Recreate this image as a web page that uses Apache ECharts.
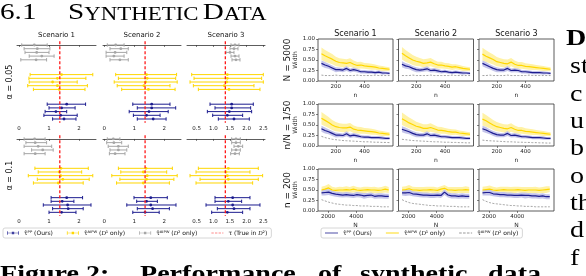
<!DOCTYPE html>
<html><head><meta charset="utf-8">
<script src="https://cdn.jsdelivr.net/npm/echarts@6/dist/echarts.min.js"></script>
<style>html,body{margin:0;padding:0;background:#fff}#c{width:586px;height:276px}</style>
</head><body><div id="c"></div>
<script>
// ---------------- DATA ----------------
const scenarios = ['Scenario 1', 'Scenario 2', 'Scenario 3'];
const alphaLabels = ['α = 0.05', 'α = 0.1'];
const trueTau = 1.36;
const forestTicksAB = [0, 1, 2];
const forestTicksC = [0.5, 1.0, 1.5, 2.0, 2.5];
// [lower, estimate, upper] for 5 repetitions
// alpha = 0.05
const a05_s1_gray = [[0.09,0.51,0.94],[0.17,0.61,1.03],[0.2,0.59,1.0],[0.34,0.76,1.17],[0.06,0.57,0.92]];
const a05_s1_yel  = [[0.37,1.42,2.46],[0.33,1.28,2.23],[0.34,1.12,1.94],[0.29,1.28,2.28],[0.48,1.34,2.2]];
const a05_s1_pp   = [[0.94,1.59,2.22],[1.0,1.42,1.87],[0.87,1.23,1.59],[0.83,1.39,1.94],[1.12,1.5,1.9]];
const a05_s2_gray = [[0.1,0.38,0.66],[0.19,0.55,0.8],[0.06,0.36,0.75],[0.06,0.32,0.66],[0.19,0.52,0.8]];
const a05_s2_yel  = [[0.38,1.41,2.41],[0.47,1.43,2.38],[0.33,1.38,2.43],[0.43,1.32,2.19],[0.58,1.47,2.36]];
const a05_s2_pp   = [[0.95,1.58,2.19],[1.1,1.58,2.38],[0.83,1.49,2.13],[0.97,1.41,1.86],[1.1,1.63,2.06]];
const a05_s3_gray = [[1.53,1.65,1.77],[1.5,1.62,1.74],[1.38,1.5,1.62],[1.53,1.65,1.77],[1.56,1.68,1.8]];
const a05_s3_yel  = [[0.35,1.42,2.5],[0.42,1.42,2.45],[0.3,1.4,2.5],[0.4,1.33,2.22],[0.55,1.47,2.4]];
const a05_s3_pp   = [[0.9,1.55,2.2],[1.05,1.55,2.12],[0.82,1.48,2.15],[0.98,1.42,1.88],[1.15,1.62,2.08]];
// alpha = 0.1
const a10_s1_gray = [[0.17,0.52,0.87],[0.23,0.54,0.92],[0.17,0.64,1.09],[0.42,0.79,1.14],[0.17,0.54,0.87]];
const a10_s1_yel  = [[0.53,1.4,2.31],[0.64,1.34,2.09],[0.31,1.39,2.46],[0.61,1.46,2.34],[0.48,1.31,2.14]];
const a10_s1_pp   = [[1.07,1.59,2.12],[1.07,1.44,1.83],[0.81,1.62,2.4],[1.12,1.64,2.14],[1.0,1.42,1.9]];
const a10_s2_gray = [[0.1,0.3,0.52],[0.08,0.32,0.58],[0.13,0.47,0.8],[0.19,0.47,0.75],[0.17,0.36,0.69]];
const a10_s2_yel  = [[0.47,1.39,2.27],[0.55,1.3,2.08],[0.25,1.43,2.43],[0.52,1.41,2.32],[0.41,1.3,2.17]];
const a10_s2_pp   = [[0.99,1.55,2.1],[1.08,1.41,1.77],[0.75,1.55,2.39],[1.1,1.61,2.17],[0.95,1.36,1.83]];
const a10_s3_gray = [[1.55,1.68,1.81],[1.55,1.68,1.81],[1.62,1.75,1.88],[1.55,1.68,1.81],[1.52,1.65,1.78]];
const a10_s3_yel  = [[0.55,1.45,2.35],[0.48,1.38,2.1],[0.3,1.42,2.48],[0.6,1.45,2.35],[0.48,1.35,2.18]];
const a10_s3_pp   = [[1.05,1.58,2.1],[1.05,1.45,1.85],[0.78,1.58,2.4],[1.12,1.62,2.1],[0.95,1.42,1.88]];

// Width curves
const nValues = [100,125,150,175,200,225,250,275,300,325,350,375,400,425,450,475,500,525,550,575];
const NValues = [1550,1800,2050,2300,2550,2800,3050,3300,3550,3800,4050,4300,4550,4800,5050,5300,5550,5800,6050,6300];
const rowLabels = ['N = 5000', 'n/N = 1/50', 'n = 200'];
const widthTicks = [0, 0.25, 0.5, 0.75, 1.0];
const nTicks = [200, 400];
const NTicks = [2000, 4000];
// row 1: N = 5000
const r1_s1_yel  = [0.65,0.6,0.56,0.52,0.47,0.44,0.43,0.42,0.44,0.4,0.37,0.38,0.36,0.35,0.34,0.33,0.31,0.3,0.29,0.28];
const r1_s1_pp   = [0.42,0.38,0.35,0.31,0.27,0.27,0.26,0.3,0.25,0.27,0.25,0.22,0.22,0.21,0.21,0.2,0.21,0.19,0.19,0.18];
const r1_s1_gray = [0.14,0.13,0.13,0.13,0.14,0.13,0.13,0.13,0.13,0.13,0.14,0.13,0.13,0.13,0.13,0.14,0.13,0.13,0.13,0.13];
const r1_s2_yel  = [0.66,0.6,0.55,0.5,0.47,0.45,0.42,0.43,0.45,0.41,0.38,0.38,0.36,0.35,0.33,0.34,0.32,0.3,0.29,0.28];
const r1_s2_pp   = [0.4,0.36,0.34,0.3,0.27,0.26,0.27,0.29,0.25,0.26,0.24,0.22,0.23,0.21,0.2,0.21,0.2,0.19,0.19,0.18];
const r1_s2_gray = [0.13,0.13,0.13,0.14,0.13,0.13,0.13,0.13,0.14,0.13,0.13,0.13,0.13,0.13,0.14,0.13,0.13,0.13,0.13,0.13];
const r1_s3_yel  = [0.64,0.59,0.55,0.51,0.46,0.44,0.42,0.41,0.45,0.4,0.37,0.37,0.35,0.34,0.33,0.32,0.31,0.3,0.29,0.28];
const r1_s3_pp   = [0.42,0.38,0.34,0.3,0.27,0.26,0.26,0.3,0.25,0.26,0.25,0.22,0.22,0.21,0.2,0.2,0.2,0.19,0.19,0.18];
const r1_s3_gray = [0.13,0.13,0.14,0.13,0.13,0.13,0.13,0.14,0.13,0.13,0.13,0.13,0.13,0.14,0.13,0.13,0.13,0.13,0.13,0.13];
// row 2: n/N = 1/50
const r2_s1_yel  = [0.66,0.61,0.56,0.5,0.46,0.44,0.43,0.43,0.45,0.4,0.38,0.37,0.36,0.35,0.34,0.33,0.31,0.3,0.29,0.28];
const r2_s1_pp   = [0.41,0.37,0.34,0.3,0.26,0.26,0.25,0.29,0.24,0.26,0.24,0.22,0.21,0.21,0.2,0.2,0.2,0.19,0.18,0.18];
const r2_s1_gray = [0.23,0.2,0.18,0.16,0.15,0.14,0.13,0.125,0.12,0.115,0.11,0.105,0.1,0.1,0.095,0.09,0.09,0.085,0.085,0.08];
const r2_s2_yel  = [0.65,0.6,0.55,0.51,0.47,0.45,0.42,0.42,0.44,0.41,0.38,0.37,0.36,0.34,0.33,0.33,0.31,0.3,0.29,0.28];
const r2_s2_pp   = [0.4,0.37,0.34,0.3,0.27,0.26,0.26,0.29,0.25,0.26,0.24,0.22,0.22,0.21,0.2,0.2,0.2,0.19,0.18,0.18];
const r2_s2_gray = [0.16,0.15,0.14,0.13,0.125,0.12,0.115,0.11,0.105,0.1,0.1,0.095,0.09,0.09,0.085,0.085,0.08,0.08,0.075,0.075];
const r2_s3_yel  = [0.64,0.6,0.55,0.5,0.46,0.44,0.42,0.41,0.44,0.4,0.37,0.37,0.35,0.34,0.33,0.32,0.31,0.3,0.29,0.28];
const r2_s3_pp   = [0.41,0.38,0.34,0.3,0.27,0.26,0.26,0.3,0.25,0.26,0.24,0.22,0.22,0.21,0.2,0.2,0.2,0.19,0.18,0.18];
const r2_s3_gray = [0.14,0.13,0.125,0.12,0.115,0.11,0.105,0.1,0.1,0.095,0.09,0.09,0.085,0.085,0.08,0.08,0.075,0.075,0.07,0.07];
// row 3: n = 200
const r3_s1_yel  = [0.5,0.52,0.55,0.5,0.49,0.5,0.5,0.51,0.5,0.52,0.5,0.49,0.5,0.51,0.5,0.5,0.49,0.5,0.52,0.5];
const r3_s1_pp   = [0.43,0.44,0.45,0.42,0.4,0.39,0.38,0.39,0.38,0.37,0.39,0.38,0.36,0.37,0.38,0.35,0.36,0.36,0.35,0.35];
const r3_s1_gray = [0.27,0.24,0.21,0.19,0.17,0.16,0.15,0.14,0.14,0.13,0.13,0.12,0.12,0.12,0.11,0.11,0.11,0.1,0.1,0.1];
const r3_s2_yel  = [0.5,0.51,0.53,0.5,0.5,0.49,0.5,0.5,0.51,0.5,0.49,0.52,0.54,0.5,0.5,0.49,0.5,0.5,0.51,0.5];
const r3_s2_pp   = [0.43,0.43,0.44,0.41,0.4,0.39,0.38,0.38,0.37,0.37,0.38,0.37,0.45,0.38,0.36,0.36,0.35,0.36,0.35,0.35];
const r3_s2_gray = [0.27,0.23,0.2,0.18,0.17,0.16,0.15,0.14,0.13,0.13,0.12,0.12,0.12,0.11,0.11,0.11,0.1,0.1,0.1,0.1];
const r3_s3_yel  = [0.5,0.51,0.52,0.5,0.49,0.5,0.51,0.5,0.5,0.5,0.51,0.5,0.49,0.5,0.5,0.5,0.49,0.5,0.51,0.52];
const r3_s3_pp   = [0.43,0.44,0.44,0.41,0.4,0.39,0.39,0.38,0.38,0.37,0.37,0.38,0.37,0.37,0.36,0.36,0.35,0.36,0.34,0.34];
const r3_s3_gray = [0.27,0.23,0.2,0.18,0.17,0.16,0.15,0.14,0.13,0.13,0.12,0.12,0.11,0.11,0.11,0.1,0.1,0.1,0.1,0.1];
// band half-widths (spread across repetitions)
const r1_band_yel = [0.15,0.14,0.13,0.12,0.11,0.1,0.1,0.1,0.1,0.09,0.08,0.08,0.07,0.07,0.07,0.06,0.06,0.06,0.05,0.05];
const r1_band_pp  = [0.07,0.07,0.06,0.06,0.06,0.05,0.05,0.06,0.05,0.05,0.05,0.04,0.04,0.04,0.04,0.04,0.04,0.04,0.03,0.03];
const r2_band_yel = [0.15,0.14,0.13,0.12,0.11,0.1,0.1,0.1,0.1,0.09,0.08,0.08,0.07,0.07,0.07,0.06,0.06,0.06,0.05,0.05];
const r2_band_pp  = [0.07,0.07,0.06,0.06,0.06,0.05,0.05,0.06,0.05,0.05,0.05,0.04,0.04,0.04,0.04,0.04,0.04,0.04,0.03,0.03];
const r3_band_yel = [0.08,0.08,0.09,0.08,0.07,0.08,0.07,0.08,0.07,0.08,0.07,0.07,0.08,0.07,0.07,0.08,0.07,0.07,0.08,0.07];
const r3_band_pp  = [0.06,0.07,0.07,0.06,0.06,0.06,0.06,0.06,0.06,0.06,0.06,0.06,0.07,0.06,0.06,0.06,0.06,0.06,0.06,0.06];

// ---------------- STYLE / LAYOUT ----------------
const C_PP = '#1c1c8f', C_YEL = '#ffd700', C_GRAY = '#a6a6a6', C_RED = '#ff1a1a';
const C_BAND_PP = '#c4c4ea', C_BAND_YEL = '#fff2a6';
const SANS = 'DejaVu Sans', SERIF = 'Liberation Serif';

const forestData = [
  [[a05_s1_gray,a05_s1_yel,a05_s1_pp],[a05_s2_gray,a05_s2_yel,a05_s2_pp],[a05_s3_gray,a05_s3_yel,a05_s3_pp]],
  [[a10_s1_gray,a10_s1_yel,a10_s1_pp],[a10_s2_gray,a10_s2_yel,a10_s2_pp],[a10_s3_gray,a10_s3_yel,a10_s3_pp]]
];
const widthData = [
  [[r1_s1_gray,r1_s1_yel,r1_s1_pp],[r1_s2_gray,r1_s2_yel,r1_s2_pp],[r1_s3_gray,r1_s3_yel,r1_s3_pp]],
  [[r2_s1_gray,r2_s1_yel,r2_s1_pp],[r2_s2_gray,r2_s2_yel,r2_s2_pp],[r2_s3_gray,r2_s3_yel,r2_s3_pp]],
  [[r3_s1_gray,r3_s1_yel,r3_s1_pp],[r3_s2_gray,r3_s2_yel,r3_s2_pp],[r3_s3_gray,r3_s3_yel,r3_s3_pp]]
];
const bandData = [[r1_band_yel,r1_band_pp],[r2_band_yel,r2_band_pp],[r3_band_yel,r3_band_pp]];

const fCols = [
  {left:17, width:79, min:-0.067, max:2.567, ticks:forestTicksAB, fmt:v=>String(Math.round(v))},
  {left:103, width:78, min:-0.043, max:2.557, ticks:forestTicksAB, fmt:v=>String(Math.round(v))},
  {left:187, width:78, min:0.209, max:2.551, ticks:forestTicksC, fmt:v=>v.toFixed(1)}
];
const fRows = [{top:41.3, height:81.4}, {top:135.3, height:80.7}];
const groupStart = [0, 8, 16]; // gray, yellow, blue slots
const wCols = [318, 398.5, 479], wWidth = 75;
const wRows = [39, 104, 169], wHeight = 42;

const grid = [], xAxis = [], yAxis = [], series = [];

function renderErr(params, api) {
  const y = api.value(3);
  const lo = api.coord([api.value(0), y]);
  const mid = api.coord([api.value(1), y]);
  const hi = api.coord([api.value(2), y]);
  const color = api.visual('color');
  const cap = 1.7, st = {stroke: color, lineWidth: 1};
  return {type:'group', children:[
    {type:'line', shape:{x1:lo[0],y1:lo[1],x2:hi[0],y2:hi[1]}, style:st},
    {type:'line', shape:{x1:lo[0],y1:lo[1]-cap,x2:lo[0],y2:lo[1]+cap}, style:st},
    {type:'line', shape:{x1:hi[0],y1:hi[1]-cap,x2:hi[0],y2:hi[1]+cap}, style:st},
    {type:'circle', shape:{cx:mid[0],cy:mid[1],r:1.4}, style:{fill:color}}
  ]};
}
function renderBand(params, api) {
  if (params.dataIndexInside !== 0) return null;
  const n = params.dataInsideLength, up = [], dn = [];
  for (let k = 0; k < n; k++) {
    const x = api.value(0, k);
    up.push(api.coord([x, api.value(2, k)]));
    dn.push(api.coord([x, api.value(1, k)]));
  }
  return {type:'polygon', shape:{points: up.concat(dn.reverse())}, style:{fill: api.visual('color')}};
}

// forest panels
fRows.forEach((r, ri) => {
  fCols.forEach((c, ci) => {
    const g = grid.length;
    grid.push({left:c.left, top:r.top, width:c.width, height:r.height});
    xAxis.push({type:'value', gridIndex:g, min:c.min, max:c.max,
      axisLine:{show:true, lineStyle:{color:'#333', width:0.8}},
      axisTick:{show:true, customValues:c.ticks, length:2, lineStyle:{color:'#333', width:0.6}},
      axisLabel:{show:true, customValues:c.ticks, formatter:c.fmt, fontSize:5.5, fontFamily:SANS, color:'#222', margin:2.5},
      splitLine:{show:false}});
    yAxis.push({type:'value', gridIndex:g, min:-1, max:21, inverse:true,
      axisLine:{show:false}, axisTick:{show:false}, axisLabel:{show:false}, splitLine:{show:false},
      name: ci === 0 ? alphaLabels[ri] : '', nameLocation:'middle', nameGap:3, nameRotate:90,
      nameTextStyle:{fontSize:8, fontFamily:SANS, color:'#111'}});
    const names = ['aipw2', 'aipw1', 'pp'];
    const colors = [C_GRAY, C_YEL, C_PP];
    forestData[ri][ci].forEach((arr, mi) => {
      series.push({type:'custom', name:names[mi], xAxisIndex:g, yAxisIndex:g,
        itemStyle:{color:colors[mi], opacity: mi === 2 ? 0.85 : 1},
        renderItem:renderErr, encode:{x:[0,1,2], y:3},
        data: arr.map((t, k) => [t[0], t[1], t[2], groupStart[mi] + k])});
    });
    series.push({type:'line', name:'tau', xAxisIndex:g, yAxisIndex:g, symbol:'none', z:5,
      lineStyle:{color:C_RED, type:[3,2], width:1.3}, itemStyle:{color:C_RED},
      data:[[trueTau, -1], [trueTau, 21]]});
  });
});

// width panels
wRows.forEach((top, ri) => {
  const xs = ri < 2 ? nValues : NValues;
  const ticks = ri < 2 ? nTicks : NTicks;
  const xmin = ri < 2 ? 76 : 1300, xmax = ri < 2 ? 599 : 6600;
  wCols.forEach((left, ci) => {
    const g = grid.length;
    grid.push({left:left, top:top, width:wWidth, height:wHeight, show:true, borderColor:'#333', borderWidth:0.8, backgroundColor:'transparent'});
    xAxis.push({type:'value', gridIndex:g, min:xmin, max:xmax,
      axisLine:{show:false},
      axisTick:{show:true, customValues:ticks, length:2, lineStyle:{color:'#333', width:0.6}},
      axisLabel:{show:true, customValues:ticks, formatter:v=>String(v), fontSize:5.5, fontFamily:SANS, color:'#222', margin:3},
      splitLine:{show:false},
      name: ri < 2 ? 'n' : 'N', nameLocation:'middle', nameGap:11,
      nameTextStyle:{fontSize:6, fontFamily:SANS, color:'#222'}});
    yAxis.push({type:'value', gridIndex:g, min:0, max:1,
      axisLine:{show:false},
      axisTick:{show:true, customValues:widthTicks, length:2, lineStyle:{color:'#333', width:0.6}},
      axisLabel:{show: ci === 0, customValues:widthTicks, formatter:v=>v.toFixed(2), fontSize:5.5, fontFamily:SANS, color:'#222', margin:3},
      splitLine:{show:false},
      name: ci === 0 ? 'Width' : '', nameLocation:'middle', nameGap:15, nameRotate:90,
      nameTextStyle:{fontSize:6, fontFamily:SANS, color:'#222'}});
    const [gray, yel, pp] = widthData[ri][ci];
    const [bY, bP] = bandData[ri];
    const band = (vals, hw, col) => {
      series.push({type:'custom', xAxisIndex:g, yAxisIndex:g, silent:true, itemStyle:{color:col},
        renderItem:renderBand, encode:{x:0, y:[1,2]},
        data: xs.map((x,i)=>[x, vals[i]-hw[i], vals[i]+hw[i]])});
    };
    band(yel, bY, C_BAND_YEL);
    band(pp, bP, C_BAND_PP);
    series.push({type:'line', name:'aipw2', xAxisIndex:g, yAxisIndex:g, symbol:'none',
      lineStyle:{color:'#999', width:0.9, type:[2,1.5]}, itemStyle:{color:C_GRAY},
      data: xs.map((x,i)=>[x, gray[i]])});
    series.push({type:'line', name:'aipw1', xAxisIndex:g, yAxisIndex:g, symbol:'none',
      lineStyle:{color:C_YEL, width:1.2}, itemStyle:{color:C_YEL},
      data: xs.map((x,i)=>[x, yel[i]])});
    series.push({type:'line', name:'pp', xAxisIndex:g, yAxisIndex:g, symbol:'none',
      lineStyle:{color:C_PP, width:1.2}, itemStyle:{color:C_PP},
      data: xs.map((x,i)=>[x, pp[i]])});
  });
});

// titles
const title = [];
fCols.forEach((c, ci) => title.push({text:scenarios[ci], left:c.left + c.width/2, top:32, textAlign:'center',
  textStyle:{fontSize:7, fontWeight:'normal', fontFamily:SANS, color:'#111'}, padding:0}));
wCols.forEach((l, ci) => title.push({text:scenarios[ci], left:l + wWidth/2, top:30, textAlign:'center',
  textStyle:{fontSize:8, fontWeight:'normal', fontFamily:SANS, color:'#111'}, padding:0}));

const rich = {i:{fontStyle:'italic', fontSize:6, fontFamily:SERIF}};
const legendNames = {
  pp:'τ̂ᴾᴾ (Ours)',
  aipw1:'τ̂ᴬᴵᴾᵂ ({i|D}¹ only)',
  aipw2:'τ̂ᴬᴵᴾᵂ ({i|D}² only)',
  tau:'τ (True in {i|D}²)'
};
const errIcon = 'path://M0,4.5H20V5.5H0Z M0,2H1.2V8H0Z M18.8,2H20V8H18.8Z M8,3H12V7H8Z';
const dashIcon = 'path://M0,4.4H4V5.6H0Z M6,4.4H10V5.6H6Z M12,4.4H16V5.6H12Z M18,4.4H20V5.6H18Z';
const lineIcon = 'path://M0,4.3H20V5.7H0Z';
const legend = [
  {left:3, top:228, orient:'horizontal', itemWidth:12, itemHeight:6, itemGap:14,
    borderColor:'#ccc', borderWidth:0.8, borderRadius:2, padding:[2,4],
    textStyle:{fontSize:6, fontFamily:SANS, color:'#111', rich:rich},
    formatter:n=>legendNames[n],
    data:[{name:'pp', icon:errIcon, itemStyle:{color:C_PP}}, {name:'aipw1', icon:errIcon, itemStyle:{color:C_YEL}},
          {name:'aipw2', icon:errIcon, itemStyle:{color:C_GRAY}}, {name:'tau', icon:dashIcon, itemStyle:{color:C_RED}}]},
  {left:321, top:228, orient:'horizontal', itemWidth:13, itemHeight:5, itemGap:14,
    borderColor:'#ccc', borderWidth:0.8, borderRadius:2, padding:[2,4],
    textStyle:{fontSize:6, fontFamily:SANS, color:'#111', rich:rich},
    formatter:n=>legendNames[n],
    data:[{name:'pp', icon:lineIcon, itemStyle:{color:C_PP}}, {name:'aipw1', icon:lineIcon, itemStyle:{color:C_YEL}},
          {name:'aipw2', icon:dashIcon, itemStyle:{color:'#999'}}]}
];

// paper text around the figure
const serifTxt = (t, x, y, opt, sx) => Object.assign({type:'text', x:x, y:y, scaleX:sx || 1.22,
  style:Object.assign({text:t, fontSize:23, fontFamily:SERIF, fill:'#000'}, opt || {})});
const rowLabel = (r) => ({type:'text', x:288, y:wRows[r] + wHeight/2, rotation:Math.PI/2,
  style:{text:rowLabels[r], fontSize:9, fontFamily:SANS, fill:'#111', align:'center', verticalAlign:'middle'}});
const graphic = [
  serifTxt('6.1', 0, 1, null, 1.27),
  {type:'text', x:68, y:1, scaleX:1.27, style:{text:'{b|S}{c|YNTHETIC} {b|D}{c|ATA}',
    rich:{b:{fontSize:23, fontFamily:SERIF, fill:'#000', verticalAlign:'bottom'}, c:{fontSize:18, fontFamily:SERIF, fill:'#000', verticalAlign:'bottom'}}}},
  rowLabel(0), rowLabel(1), rowLabel(2),
  serifTxt('D', 566, 28, {fontWeight:'bold'}),
  serifTxt('st', 570, 55), serifTxt('c', 570, 83), serifTxt('u', 570, 110), serifTxt('b', 570, 137),
  serifTxt('o', 570, 165), serifTxt('th', 570, 192), serifTxt('d', 570, 219), serifTxt('f', 570, 247),
  serifTxt('Figure 2:', 0, 264, {fontWeight:'bold'}),
  serifTxt('Performance', 140, 264, {fontWeight:'bold'}),
  serifTxt('of', 318, 264, {fontWeight:'bold'}),
  serifTxt('synthetic', 360, 264, {fontWeight:'bold'}),
  serifTxt('data', 488, 264, {fontWeight:'bold'})
];

const chart = echarts.init(document.getElementById('c'));
chart.setOption({animation:false, backgroundColor:'#fff', title, legend, grid, xAxis, yAxis, series, graphic});
</script></body></html>
